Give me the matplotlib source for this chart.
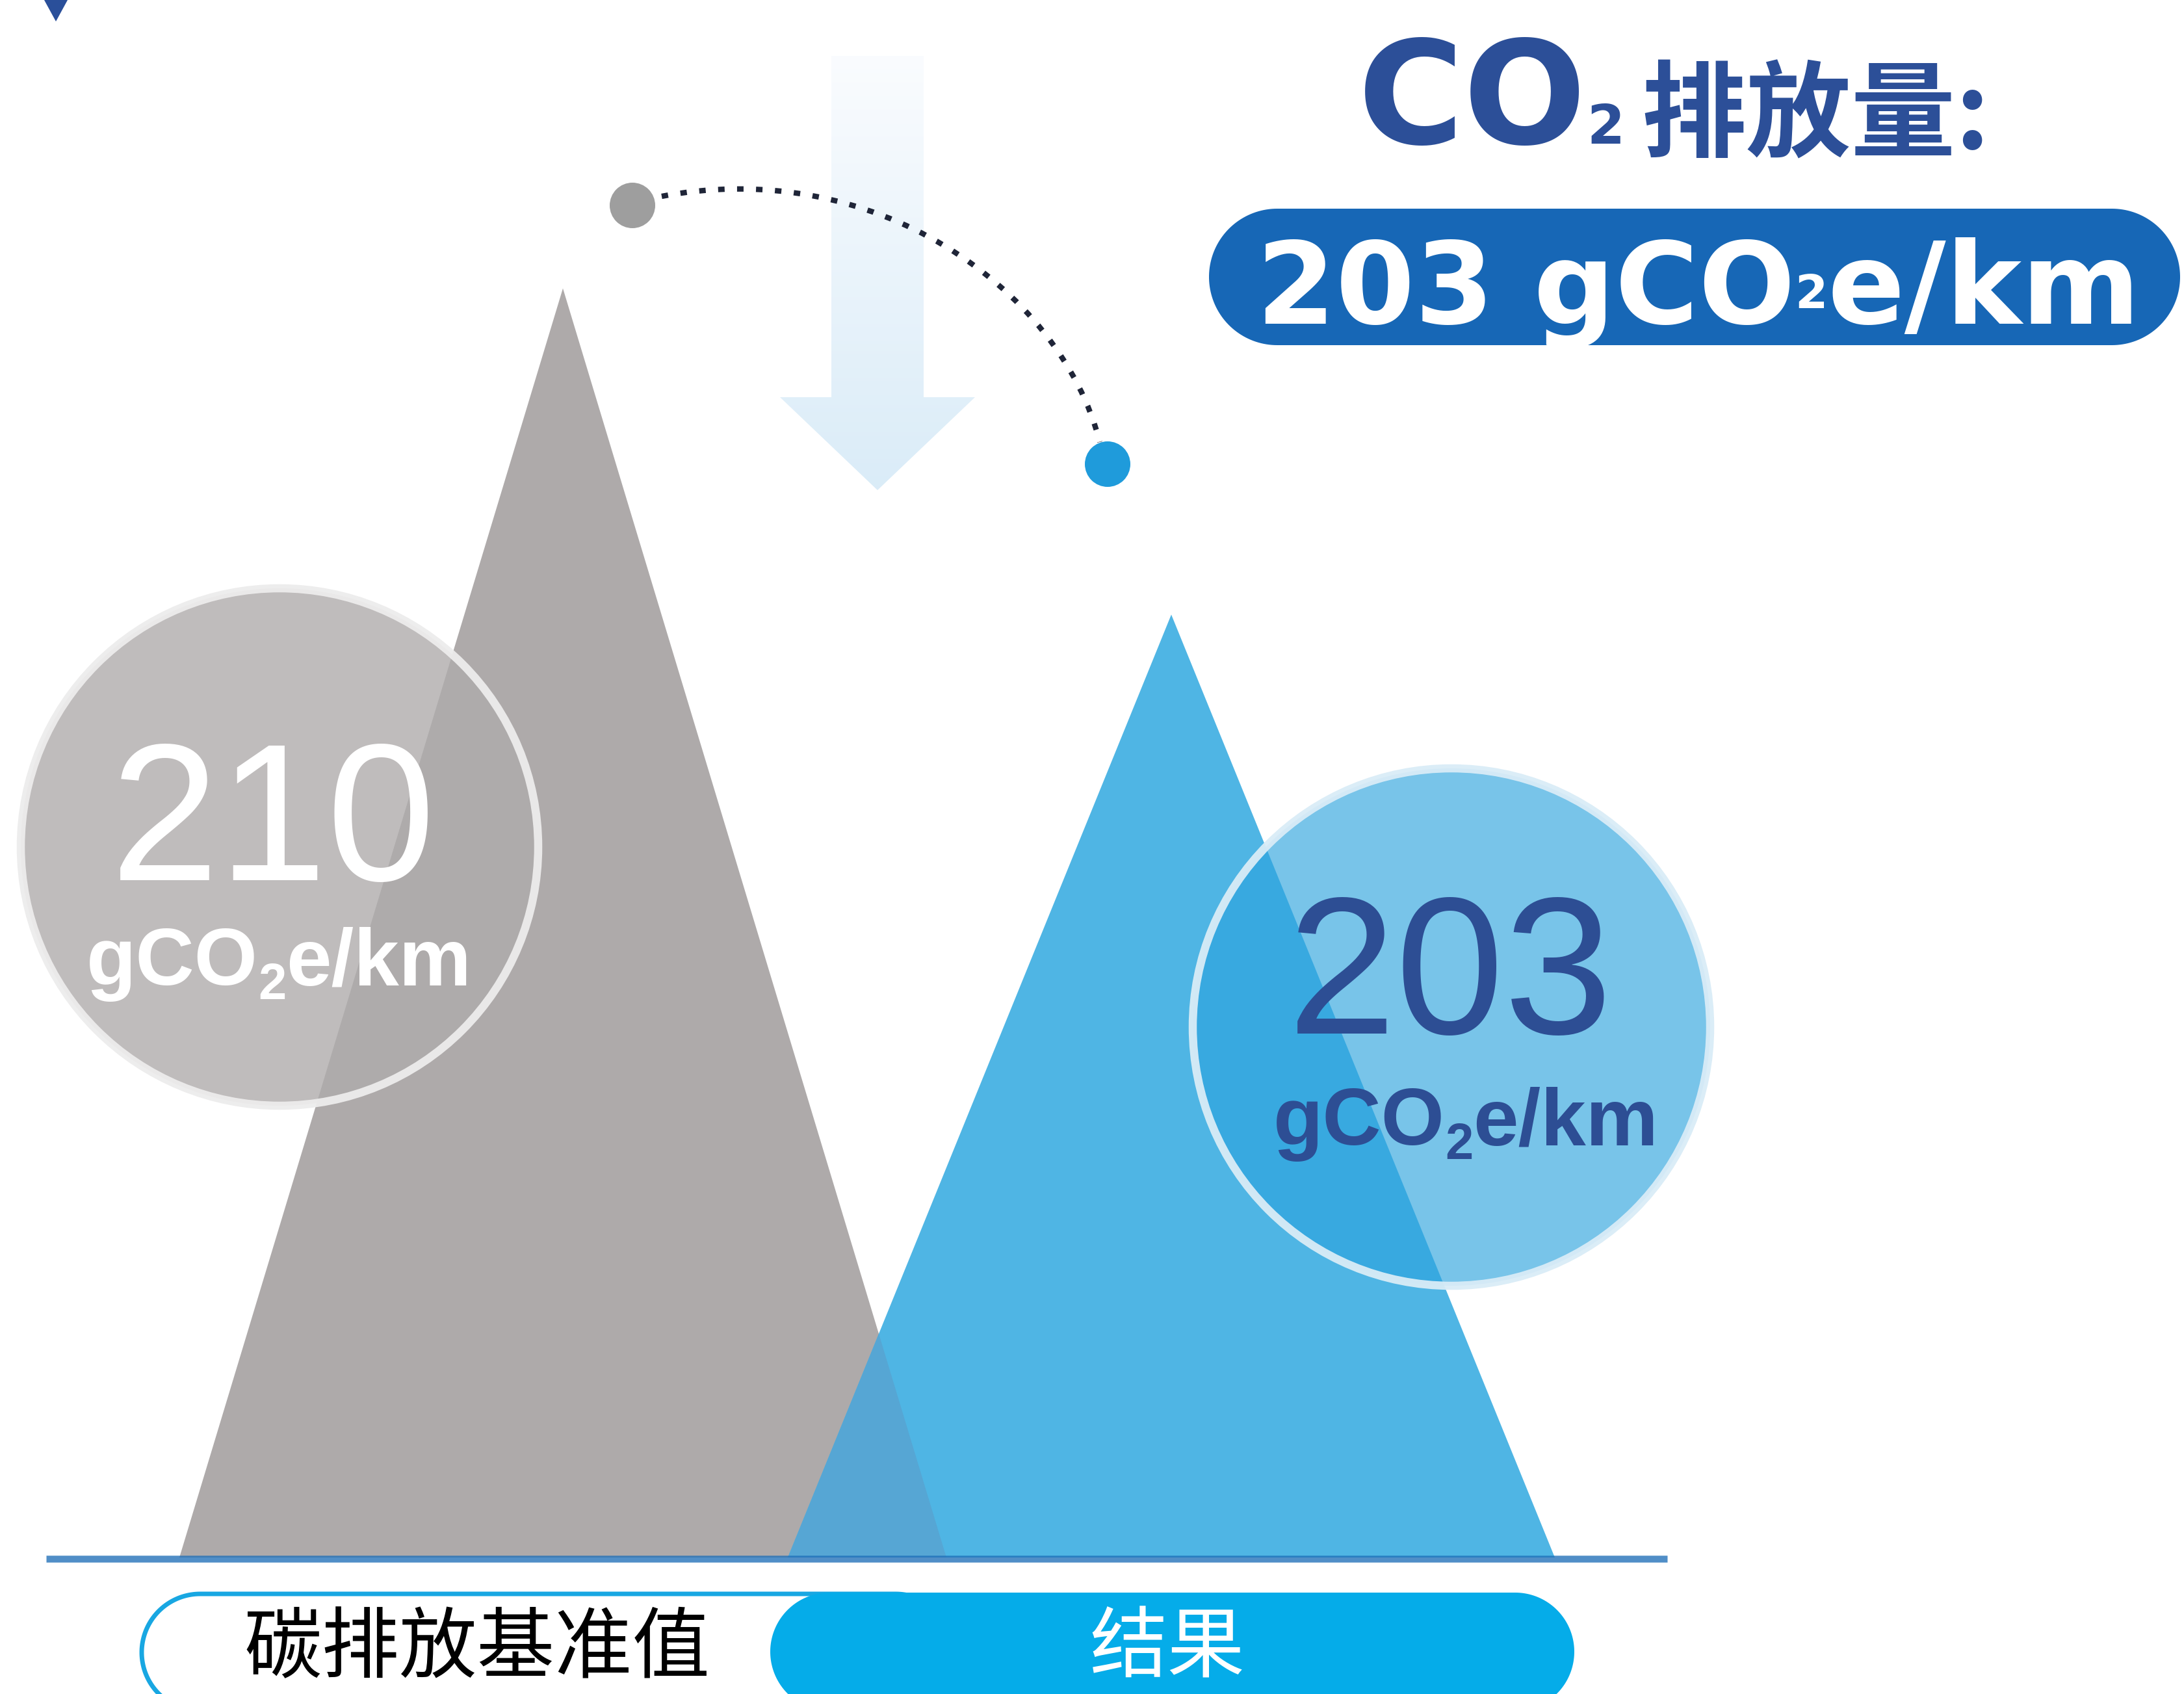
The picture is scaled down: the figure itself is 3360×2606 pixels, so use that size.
import numpy as np
import matplotlib.pyplot as plt
from matplotlib.patches import Polygon, Circle, PathPatch
from matplotlib.path import Path

plt.rcParams['font.family'] = ['Liberation Sans', 'Noto Sans CJK SC', 'DejaVu Sans']

# data
categories = ['碳排放基准值', '结果']
values = [210, 203]
unit_parts = ['gCO', '2', 'e/km']
title_parts = ['CO', '2', '排放量:']
result_value = 203

# layout (pixel canvas 3360 x 2606, y grows downwards)
W, H = 3360, 2606
GROUND = 2396
peak_x = [866, 1802]
half_base = 590
v_floor = 182.77          # value at the ground line
px_per_unit = 71.7        # vertical scale of the peaks

tri_colors = ['#aeaaaa', '#4fb5e4']
overlap_color = '#56a6d4'
navy = '#2c4f98'

fig = plt.figure(figsize=(16.8, 13.03), dpi=200)
ax = fig.add_axes([0, 0, 1, 1])
ax.set_xlim(0, W)
ax.set_ylim(H, 0)
ax.axis('off')

# peaks axes: y in emission units
axp = fig.add_axes([0, (H - GROUND) / H, 1, GROUND / H], zorder=2)
axp.set_xlim(0, W)
axp.set_ylim(v_floor, v_floor + GROUND / px_per_unit)
axp.axis('off')
axp.patch.set_alpha(0)

renderer = fig.canvas.get_renderer()


def put_runs(target, x, y, runs, align='left', **common):
    """runs: (text, fontsize, dy, extra) drawn side by side on one baseline"""
    items = []
    for s, size, dy, extra in runs:
        kw = dict(common)
        kw.update(extra)
        t = target.text(0, y + dy, s, fontsize=size, va='baseline', ha='left',
                        transform=ax.transData, clip_on=False, **kw)
        items.append((t, t.get_window_extent(renderer).width))
    total = sum(w for _, w in items)
    x0 = x - total / 2 if align == 'center' else x
    for t, w in items:
        t.set_x(x0)
        x0 += w


def pill(x0, x1, y0, y1, **kw):
    r = (y1 - y0) / 2
    yc = (y0 + y1) / 2
    t = np.linspace(-np.pi / 2, np.pi / 2, 80)
    right = np.column_stack([x1 - r + r * np.cos(t), yc + r * np.sin(t)])
    left = np.column_stack([x0 + r - r * np.cos(t), yc - r * np.sin(t)])
    return Polygon(np.vstack([right, left]), closed=True, **kw)


# small navy marker top-left
ax.add_patch(Polygon([(68, 0), (104, 0), (86, 33)], closed=True, color='#2a4f9a', lw=0))

# faint down arrow with gradient
arrow = Polygon([(1279, 86), (1421, 86), (1421, 611), (1500, 611), (1350, 754),
                 (1200, 611), (1279, 611)], closed=True, facecolor='none', lw=0)
ax.add_patch(arrow)
grad = np.linspace(0, 1, 256)[:, None]
c_top = np.array([0.98, 0.988, 0.997])
c_bot = np.array([0.855, 0.925, 0.972])
img = c_top + (c_bot - c_top) * grad[..., None]
img = np.repeat(img, 4, axis=1)
im = ax.imshow(img, extent=(1200, 1500, 754, 86), origin='upper', aspect='auto', zorder=1)
im.set_clip_path(arrow)
ax.set_xlim(0, W)
ax.set_ylim(H, 0)

# dotted arc between the dots
arc = Path([(1018, 302), (1340, 240), (1630, 440), (1692, 680)],
           [Path.MOVETO, Path.CURVE4, Path.CURVE4, Path.CURVE4])
ax.add_patch(PathPatch(arc, fill=False, edgecolor='#1f2538', lw=3.0,
                       linestyle=(0, (1.2, 2.3)), capstyle='butt', zorder=2))
ax.add_patch(Circle((973, 316), 35, color='#9e9e9e', lw=0, zorder=3))
ax.add_patch(Circle((1704, 714), 35, color='#1f9bdb', lw=0, zorder=3))

# title
put_runs(ax, 2089, 221, [
    (title_parts[0], 80, 0, dict(family='DejaVu Sans', weight='bold')),
    (title_parts[1], 30, 0, dict(family='DejaVu Sans', weight='bold')),
    (' ', 30, 0, dict(family='DejaVu Sans')),
    (title_parts[2], 58, 8, dict(family='Noto Sans CJK SC', weight='heavy')),
], color=navy)

# result badge
ax.add_patch(pill(1860, 3354, 321, 531, color='#1767b6', lw=0))
put_runs(ax, 2613, 498, [
    (f'{result_value} ' + unit_parts[0], 63, 0, {}),
    (unit_parts[1], 26, -24, {}),
    (unit_parts[2], 63, 0, {}),
], align='center', color='white', family='DejaVu Sans', weight='bold')

# peaks
tris = []
for x, v, c in zip(peak_x, values, tri_colors):
    tri = Polygon([(x - half_base, v_floor), (x, v), (x + half_base, v_floor)],
                  closed=True, facecolor=c, lw=0, zorder=1)
    axp.add_patch(tri)
    tris.append(tri)
ov = Polygon(tris[0].get_xy(), closed=True, facecolor=overlap_color, lw=0, zorder=1.5)
axp.add_patch(ov)
ov.set_clip_path(tris[1])

# ground line
axp.plot([71, 2565], [2398, 2398], color='#1f6fb8', alpha=0.78, lw=3.8,
         solid_capstyle='butt', transform=ax.transData, clip_on=False, zorder=3)

# value bubbles
bubbles = [
    dict(center=(430, 1303), face=(175 / 255, 172 / 255, 172 / 255, 0.8),
         edge=(0.93, 0.925, 0.925, 0.95), txt='white',
         num_xy=(420, 1354), unit_xy=(429, 1515)),
    dict(center=(2233, 1580), face=(44 / 255, 163 / 255, 222 / 255, 0.64),
         edge=(0.85, 0.925, 0.97, 0.95), txt='#2d4e94',
         num_xy=(2231, 1590), unit_xy=(2255, 1761)),
]
for b, v in zip(bubbles, values):
    axp.add_patch(Circle(b['center'], 398, facecolor=b['face'], edgecolor=b['edge'],
                         lw=4.5, transform=ax.transData, clip_on=False, zorder=4))
    axp.text(b['num_xy'][0], b['num_xy'][1], str(v), fontsize=108, color=b['txt'],
             ha='center', va='baseline', family='Liberation Sans',
             transform=ax.transData, clip_on=False, zorder=5)
    put_runs(axp, b['unit_xy'][0], b['unit_xy'][1], [
        (unit_parts[0], 45, 0, {}),
        (unit_parts[1], 28, 22, {}),
        (unit_parts[2], 45, 0, {}),
    ], align='center', color=b['txt'], family='Liberation Sans', weight='bold', zorder=5)

# category pills
ax.add_patch(pill(218, 1468, 2452, 2632, facecolor='white', edgecolor='#18a7e2',
                  lw=2.5, zorder=2))
ax.add_patch(pill(1185, 2422, 2450, 2632, facecolor='#05ace9', lw=0, zorder=3))
ax.text(734, 2538, categories[0], fontsize=43, color='black', ha='center', va='center',
        family='Noto Sans CJK SC', weight='medium', zorder=4)
ax.text(1796, 2538, categories[1], fontsize=43, color='white', ha='center', va='center',
        family='Noto Sans CJK SC', weight='medium', zorder=4)

fig.savefig('out.png', dpi=200)
